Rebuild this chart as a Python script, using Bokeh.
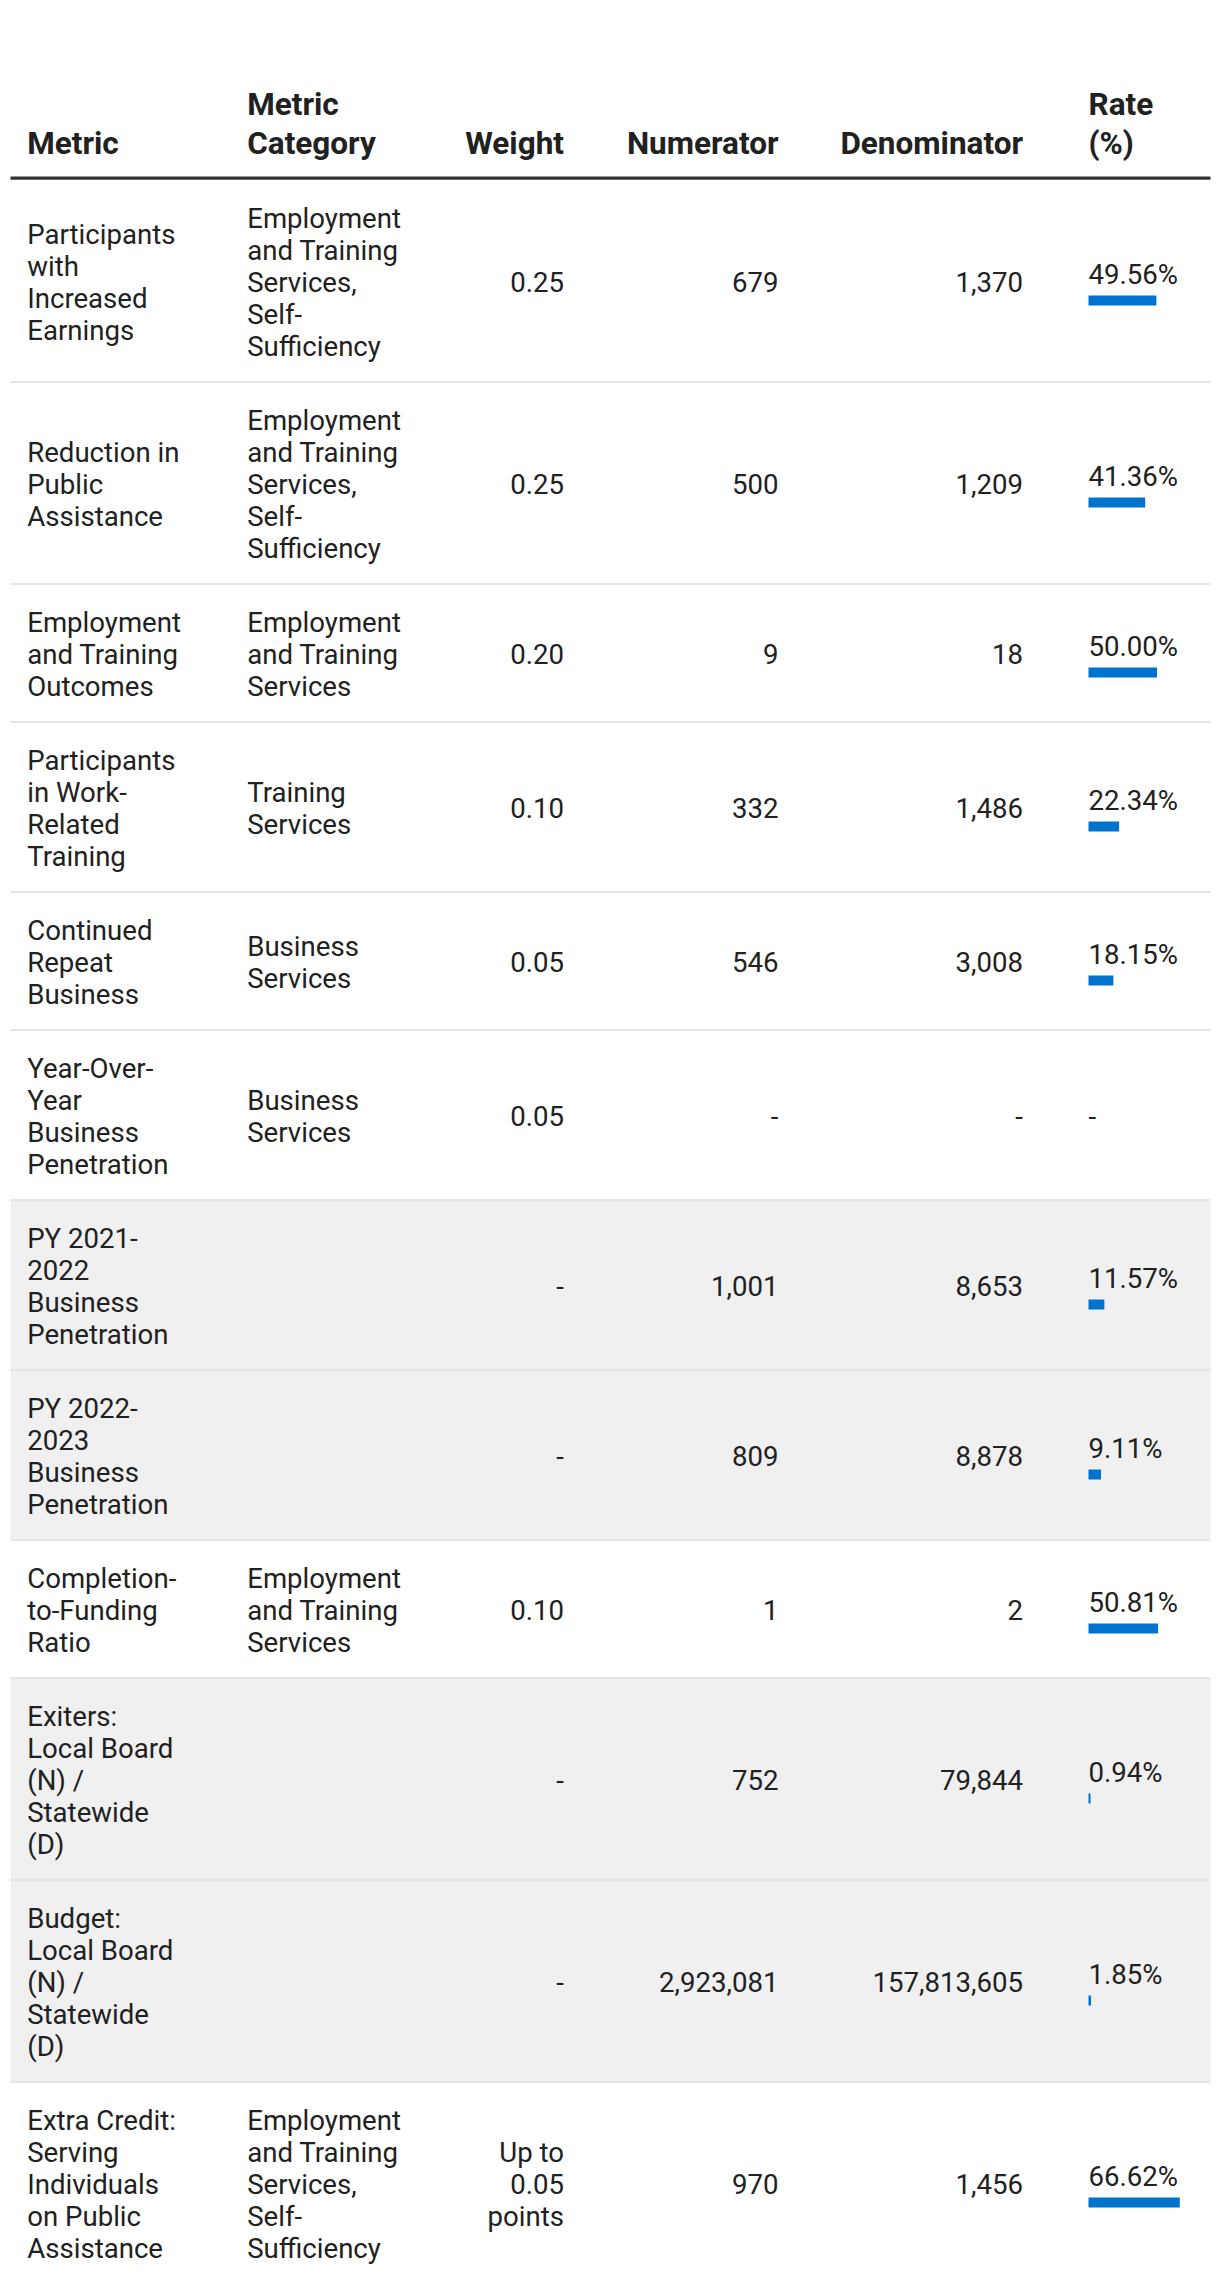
from bokeh.plotting import figure
from bokeh.models import Range1d, ColumnDataSource
from bokeh.core.properties import value
from bokeh.embed import file_html
from bokeh.resources import INLINE

# ---------------- data ----------------
headers = ["Metric", "Metric\nCategory", "Weight", "Numerator", "Denominator", "Rate\n(%)"]

metrics = [
    "Participants\nwith\nIncreased\nEarnings",
    "Reduction in\nPublic\nAssistance",
    "Employment\nand Training\nOutcomes",
    "Participants\nin Work-\nRelated\nTraining",
    "Continued\nRepeat\nBusiness",
    "Year-Over-\nYear\nBusiness\nPenetration",
    "PY 2021-\n2022\nBusiness\nPenetration",
    "PY 2022-\n2023\nBusiness\nPenetration",
    "Completion-\nto-Funding\nRatio",
    "Exiters:\nLocal Board\n(N) /\nStatewide\n(D)",
    "Budget:\nLocal Board\n(N) /\nStatewide\n(D)",
    "Extra Credit:\nServing\nIndividuals\non Public\nAssistance",
]

categories = [
    "Employment\nand Training\nServices,\nSelf-\nSufficiency",
    "Employment\nand Training\nServices,\nSelf-\nSufficiency",
    "Employment\nand Training\nServices",
    "Training\nServices",
    "Business\nServices",
    "Business\nServices",
    "",
    "",
    "Employment\nand Training\nServices",
    "",
    "",
    "Employment\nand Training\nServices,\nSelf-\nSufficiency",
]

weights = ["0.25", "0.25", "0.20", "0.10", "0.05", "0.05", "-", "-", "0.10", "-", "-",
           "Up to\n0.05\npoints"]

numerators = [679, 500, 9, 332, 546, None, 1001, 809, 1, 752, 2923081, 970]
denominators = [1370, 1209, 18, 1486, 3008, None, 8653, 8878, 2, 79844, 157813605, 1456]
rates = [49.56, 41.36, 50.00, 22.34, 18.15, None, 11.57, 9.11, 50.81, 0.94, 1.85, 66.62]

sub_rows = [False, False, False, False, False, False, True, True, False, True, True, False]

# ---------------- layout ----------------
W, H = 1220, 2292

BODY_FS = "27.6px"
HEAD_FS = "31.5px"
LH = 32.0
HLH = 38.4
TXT = "#212121"
BAR = "#0073CF"
TSHIFT = -9.0  # text baseline correction

X_METRIC = 26.7
X_CAT = 246.7
X_WEIGHT = 563.5
X_NUM = 778.0
X_DEN = 1022.5
X_RATE = 1088.0
TABLE_L, TABLE_R = 10, 1210
PX_PER_PCT = 1.37

p = figure(width=W, height=H, output_backend="svg", toolbar_location=None,
           x_range=Range1d(0, W), y_range=Range1d(H, 0), min_border=0)
p.axis.visible = False
p.grid.visible = False
p.outline_line_color = None
p.background_fill_color = "white"
p.border_fill_color = "white"

def fmt(v):
    return "-" if v is None else f"{v:,}"

# rows geometry
row_tops = []
row_bots = []
top = 178.5
for i in range(len(metrics)):
    n = max(len(metrics[i].split("\n")), len(categories[i].split("\n")),
            len(weights[i].split("\n")))
    h = n * LH + 42
    row_tops.append(top)
    row_bots.append(top + h)
    top += h

# gray sub rows background
g = [i for i in range(len(metrics)) if sub_rows[i]]
p.quad(left=[TABLE_L] * len(g), right=[TABLE_R] * len(g),
       top=[row_tops[i] for i in g], bottom=[row_bots[i] for i in g],
       fill_color="#f0f0f0", line_color=None)

# row borders
nb = len(metrics) - 1
p.quad(left=[TABLE_L] * nb, right=[TABLE_R] * nb,
       top=[row_bots[i] for i in range(nb)],
       bottom=[row_bots[i] + 2 for i in range(nb)],
       fill_color="#e5e5e5", line_color=None)

# header rule
p.quad(left=[TABLE_L], right=[TABLE_R], top=[176], bottom=[179.3],
       fill_color="#333333", line_color=None)

# header texts (bottom aligned)
HB = 151.7
hl = dict(x=[], y=[], t=[])
hr = dict(x=[], y=[], t=[])
hx = [(X_METRIC, "l"), (X_CAT, "l"), (X_WEIGHT, "r"), (X_NUM, "r"), (X_DEN, "r"), (X_RATE, "l")]
for htxt, (x, al) in zip(headers, hx):
    lines = htxt.split("\n")
    n = len(lines)
    for k, ln in enumerate(lines):
        d = hl if al == "l" else hr
        d["x"].append(x)
        d["y"].append(HB - (n - 1 - k) * HLH + TSHIFT)
        d["t"].append(ln)
p.text(x="x", y="y", text="t", source=ColumnDataSource(hl), text_font=value("Roboto"),
       text_font_style="bold", text_font_size=value(HEAD_FS), text_color=TXT,
       text_align="left", text_baseline="alphabetic")
p.text(x="x", y="y", text="t", source=ColumnDataSource(hr), text_font=value("Roboto"),
       text_font_style="bold", text_font_size=value(HEAD_FS), text_color=TXT,
       text_align="right", text_baseline="alphabetic")

# body texts
bl = dict(x=[], y=[], t=[])
br = dict(x=[], y=[], t=[])

def put(d, x, c, txt):
    lines = txt.split("\n")
    n = len(lines)
    for k, ln in enumerate(lines):
        if ln == "":
            continue
        d["x"].append(x)
        d["y"].append(c + 11 + (k - (n - 1) / 2) * LH + TSHIFT)
        d["t"].append(ln)

bars = dict(l=[], r=[], t=[], b=[])
for i in range(len(metrics)):
    c = (row_tops[i] + row_bots[i]) / 2
    put(bl, X_METRIC, c, metrics[i])
    put(bl, X_CAT, c, categories[i])
    put(br, X_WEIGHT, c, weights[i])
    put(br, X_NUM, c, fmt(numerators[i]))
    put(br, X_DEN, c, fmt(denominators[i]))
    if rates[i] is None:
        put(bl, X_RATE, c, "-")
    else:
        bl["x"].append(X_RATE)
        bl["y"].append(c + 3 + TSHIFT)
        bl["t"].append(f"{rates[i]:.2f}%")
        bars["l"].append(X_RATE)
        bars["r"].append(X_RATE + max(rates[i] * PX_PER_PCT, 2))
        bars["t"].append(c + 15.5)
        bars["b"].append(c + 25.5)

p.text(x="x", y="y", text="t", source=ColumnDataSource(bl), text_font=value("Roboto"),
       text_font_size=value(BODY_FS), text_color=TXT, text_align="left",
       text_baseline="alphabetic")
p.text(x="x", y="y", text="t", source=ColumnDataSource(br), text_font=value("Roboto"),
       text_font_size=value(BODY_FS), text_color=TXT, text_align="right",
       text_baseline="alphabetic")
p.quad(left="l", right="r", top="t", bottom="b", source=ColumnDataSource(bars),
       fill_color=BAR, line_color=None)

open("out.html", "w").write(file_html(p, INLINE))
